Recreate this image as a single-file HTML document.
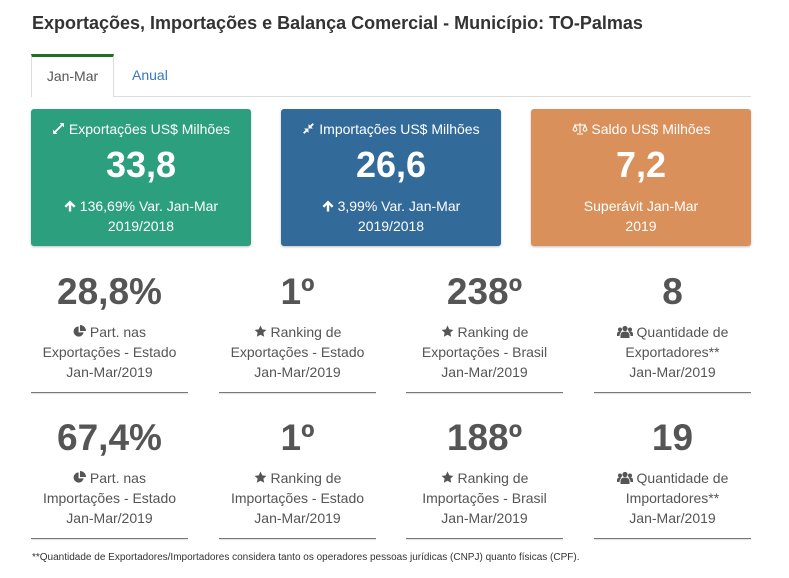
<!DOCTYPE html>
<html><head><meta charset="utf-8">
<style>
*{margin:0;padding:0;box-sizing:border-box}
html,body{width:789px;height:578px;background:#fff;overflow:hidden}
body{font-family:"Liberation Sans",Arial,sans-serif;position:relative;color:#555}
.title{position:absolute;left:32px;top:12px;font-size:18px;font-weight:bold;color:#333;line-height:22px;white-space:nowrap}
.tabline{position:absolute;left:31px;top:96px;width:720px;height:1px;background:#ddd}
.tab{position:absolute;left:31px;top:54px;width:83px;height:43px;background:#fff;border:1px solid #ddd;border-top:3px solid #1f6f23;border-bottom:none;font-size:14px;color:#555;text-align:center;line-height:38px}
.tab2{position:absolute;left:132px;top:65px;font-size:14px;color:#337ab7;line-height:20px}
.card{position:absolute;top:109px;width:220px;height:137px;border-radius:3px;color:#fff;text-align:center;box-shadow:0 1px 2px rgba(0,0,0,.25)}
.card .h{position:absolute;left:0;right:0;top:10px;font-size:14px;line-height:20px}
.card .n{position:absolute;left:0;right:0;font-size:36px;font-weight:bold;line-height:40px;top:36px}
.card .s{position:absolute;left:0;right:0;top:87px;font-size:14px;line-height:20px}
.st{position:absolute;width:157px;text-align:center;color:#555}
.st .n{font-size:37px;font-weight:bold;line-height:44px;height:44px}
.st .l{font-size:14px;line-height:20px;margin-top:8px}
.st .u{position:absolute;left:0;right:0;height:1px;background:#777;box-shadow:0 1px 1px rgba(0,0,0,.15)}
.foot{position:absolute;left:32px;top:552px;font-size:10px;line-height:12px;color:#333;white-space:nowrap}
svg{vertical-align:-1px}
</style></head><body>
<div class="title">Exportações, Importações e Balança Comercial - Município: TO-Palmas</div>
<div class="tabline"></div>
<div class="tab">Jan-Mar</div>
<div class="tab2">Anual</div>

<div class="card" style="left:31px;background:#2c9f7e">
 <div class="h"><svg width="13" height="13" viewBox="0 0 12 12"><path d="M7 1h4v4l-1.4-1.4L6.6 6.6 5.4 5.4l3-3z M5 11H1V7l1.4 1.4 3-3 1.2 1.2-3 3z" fill="#fff"/></svg> Exportações US$ Milhões</div>
 <div class="n">33,8</div>
 <div class="s"><svg width="12" height="12" viewBox="0 0 12 12"><path d="M6 0.5L11.5 6 9.8 7.6 7.2 5V11.5H4.8V5L2.2 7.6 0.5 6z" fill="#fff"/></svg> 136,69% Var. Jan-Mar<br>2019/2018</div>
</div>
<div class="card" style="left:281px;background:#326a9a">
 <div class="h"><svg width="13" height="13" viewBox="0 0 12 12"><path d="M11 2.2L8.6 4.6 10 6H6V2l1.4 1.4L9.8 1z M1 9.8l2.4-2.4L2 6h4v4L4.6 8.6 2.2 11z" fill="#fff"/></svg> Importações US$ Milhões</div>
 <div class="n">26,6</div>
 <div class="s"><svg width="12" height="12" viewBox="0 0 12 12"><path d="M6 0.5L11.5 6 9.8 7.6 7.2 5V11.5H4.8V5L2.2 7.6 0.5 6z" fill="#fff"/></svg> 3,99% Var. Jan-Mar<br>2019/2018</div>
</div>
<div class="card" style="left:531px;background:#d9905a">
 <div class="h"><svg width="16" height="13" viewBox="0 0 16 13"><g fill="none" stroke="#fff" stroke-width="1.1"><path d="M8 1v10M3 3h10M1 8l2-5 2 5M11 8l2-5 2 5M1 8q2 2.5 4 0M11 8q2 2.5 4 0M5 12h6"/></g></svg> Saldo US$ Milhões</div>
 <div class="n">7,2</div>
 <div class="s">Superávit Jan-Mar<br>2019</div>
</div>

<!-- row 1 -->
<div class="st" style="left:31px;top:270px"><div class="n">28,8%</div><div class="l"><svg width="13" height="13" viewBox="0 0 14 14"><path d="M6 1.5A5.5 5.5 0 1 0 11.5 8H6z M7.5 0v6.5H14A6.5 6.5 0 0 0 7.5 0z" fill="#555"/></svg> Part. nas<br>Exportações - Estado<br>Jan-Mar/2019</div><div class="u" style="top:122px"></div></div>
<div class="st" style="left:219px;top:270px"><div class="n">1º</div><div class="l"><svg width="13" height="13" viewBox="0 0 24 24"><path d="M12 1l3.3 7 7.7.9-5.7 5.2 1.5 7.6L12 18l-6.8 3.7 1.5-7.6L1 8.9 8.7 8z" fill="#555"/></svg> Ranking de<br>Exportações - Estado<br>Jan-Mar/2019</div><div class="u" style="top:122px"></div></div>
<div class="st" style="left:406px;top:270px"><div class="n">238º</div><div class="l"><svg width="13" height="13" viewBox="0 0 24 24"><path d="M12 1l3.3 7 7.7.9-5.7 5.2 1.5 7.6L12 18l-6.8 3.7 1.5-7.6L1 8.9 8.7 8z" fill="#555"/></svg> Ranking de<br>Exportações - Brasil<br>Jan-Mar/2019</div><div class="u" style="top:122px"></div></div>
<div class="st" style="left:594px;top:270px"><div class="n">8</div><div class="l"><svg width="16" height="13" viewBox="0 0 16 13"><g fill="#555"><circle cx="8" cy="3.5" r="2.6"/><circle cx="3" cy="4.5" r="2"/><circle cx="13" cy="4.5" r="2"/><path d="M3.5 13v-2.5q0-4 4.5-4t4.5 4V13z M0 11v-2q0-2.5 3-2.5 1 0 1.5.4-2 1.3-2 4.1z M16 11v-2q0-2.5-3-2.5-1 0-1.5.4 2 1.3 2 4.1z"/></g></svg> Quantidade de<br>Exportadores**<br>Jan-Mar/2019</div><div class="u" style="top:122px"></div></div>

<!-- row 2 -->
<div class="st" style="left:31px;top:416px"><div class="n">67,4%</div><div class="l"><svg width="13" height="13" viewBox="0 0 14 14"><path d="M6 1.5A5.5 5.5 0 1 0 11.5 8H6z M7.5 0v6.5H14A6.5 6.5 0 0 0 7.5 0z" fill="#555"/></svg> Part. nas<br>Importações - Estado<br>Jan-Mar/2019</div><div class="u" style="top:122px"></div></div>
<div class="st" style="left:219px;top:416px"><div class="n">1º</div><div class="l"><svg width="13" height="13" viewBox="0 0 24 24"><path d="M12 1l3.3 7 7.7.9-5.7 5.2 1.5 7.6L12 18l-6.8 3.7 1.5-7.6L1 8.9 8.7 8z" fill="#555"/></svg> Ranking de<br>Importações - Estado<br>Jan-Mar/2019</div><div class="u" style="top:122px"></div></div>
<div class="st" style="left:406px;top:416px"><div class="n">188º</div><div class="l"><svg width="13" height="13" viewBox="0 0 24 24"><path d="M12 1l3.3 7 7.7.9-5.7 5.2 1.5 7.6L12 18l-6.8 3.7 1.5-7.6L1 8.9 8.7 8z" fill="#555"/></svg> Ranking de<br>Importações - Brasil<br>Jan-Mar/2019</div><div class="u" style="top:122px"></div></div>
<div class="st" style="left:594px;top:416px"><div class="n">19</div><div class="l"><svg width="16" height="13" viewBox="0 0 16 13"><g fill="#555"><circle cx="8" cy="3.5" r="2.6"/><circle cx="3" cy="4.5" r="2"/><circle cx="13" cy="4.5" r="2"/><path d="M3.5 13v-2.5q0-4 4.5-4t4.5 4V13z M0 11v-2q0-2.5 3-2.5 1 0 1.5.4-2 1.3-2 4.1z M16 11v-2q0-2.5-3-2.5-1 0-1.5.4 2 1.3 2 4.1z"/></g></svg> Quantidade de<br>Importadores**<br>Jan-Mar/2019</div><div class="u" style="top:122px"></div></div>

<div class="foot">**Quantidade de Exportadores/Importadores considera tanto os operadores pessoas jurídicas (CNPJ) quanto físicas (CPF).</div>
</body></html>
